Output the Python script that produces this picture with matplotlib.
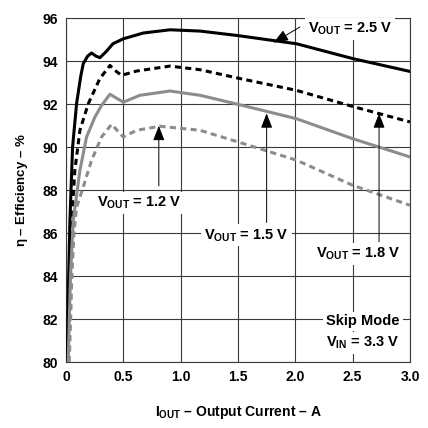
import matplotlib
matplotlib.use('Agg')
import matplotlib.pyplot as plt

plt.rcParams['font.family'] = ['Liberation Sans', 'DejaVu Sans']
plt.rcParams['font.weight'] = 'bold'
plt.rcParams['mathtext.fontset'] = 'custom'
plt.rcParams['mathtext.rm'] = 'Liberation Sans'
plt.rcParams['mathtext.it'] = 'Liberation Sans'
plt.rcParams['mathtext.bf'] = 'Liberation Sans:bold'

# efficiency curves (I_OUT in A, efficiency in %)
x_25 = [0.012, 0.02, 0.035, 0.058, 0.093, 0.128, 0.151, 0.19, 0.224, 0.26, 0.296, 0.35, 0.41, 0.5, 0.675, 0.907, 1.17, 1.5, 2.01, 2.5, 3.0]
y_25 = [80, 83, 86.6, 90.0, 92.03, 93.27, 93.89, 94.25, 94.39, 94.25, 94.17, 94.45, 94.82, 95.05, 95.32, 95.47, 95.41, 95.2, 94.82, 94.13, 93.53]

x_18 = [0.015, 0.03, 0.05, 0.078, 0.122, 0.195, 0.296, 0.384, 0.427, 0.485, 0.616, 0.907, 1.17, 1.5, 2.01, 2.5, 3.0]
y_18 = [80, 83.5, 86.6, 88.93, 90.79, 92.03, 93.2, 93.81, 93.58, 93.35, 93.55, 93.78, 93.61, 93.22, 92.65, 91.9, 91.18]

x_15 = [0.02, 0.04, 0.064, 0.122, 0.18, 0.253, 0.311, 0.384, 0.5, 0.645, 0.907, 1.17, 1.5, 2.01, 2.5, 3.0]
y_15 = [80, 84, 86.6, 88.93, 90.48, 91.41, 91.95, 92.47, 92.1, 92.42, 92.62, 92.42, 92.0, 91.33, 90.4, 89.55]

x_12 = [0.029, 0.041, 0.052, 0.07, 0.093, 0.151, 0.224, 0.311, 0.398, 0.5, 0.616, 0.82, 1.17, 1.5, 2.01, 2.5, 3.0]
y_12 = [80, 82, 84, 86, 87.2, 88.15, 89.4, 90.48, 91.07, 90.48, 90.79, 90.98, 90.79, 90.25, 89.4, 88.23, 87.3]

xticks = [0, 0.5, 1.0, 1.5, 2.0, 2.5, 3.0]
xticklabels = ['0', '0.5', '1.0', '1.5', '2.0', '2.5', '3.0']
yticks = [80, 82, 84, 86, 88, 90, 92, 94, 96]

fig = plt.figure(figsize=(4.28, 4.28), dpi=100)
ax = fig.add_axes([0.154, 0.154, 0.804, 0.803])

grey = '#8c8c8c'
ax.plot(x_25, y_25, color='black', lw=2.2, zorder=3)
ax.plot(x_18, y_18, color='black', lw=2.2, dashes=(2, 1.4), zorder=3)
ax.plot(x_15, y_15, color=grey, lw=2.2, zorder=3)
ax.plot(x_12, y_12, color=grey, lw=2.2, dashes=(2, 1.4), zorder=3)

ax.set_xlim(0, 3)
ax.set_ylim(80, 96)
ax.set_xticks(xticks)
ax.set_xticklabels(xticklabels)
ax.set_yticks(yticks)
ax.tick_params(length=0, labelsize=10, pad=6)
for lab in ax.get_xticklabels() + ax.get_yticklabels():
    lab.set_fontweight('bold')
ax.grid(True, color='#3a3a3a', lw=0.8)
for s in ax.spines.values():
    s.set_color('#3a3a3a')
    s.set_linewidth(0.8)

ax.set_xlabel(r'$\mathbf{I}_{\mathbf{OUT}}$ – Output Current – A', fontsize=10, fontweight='bold', labelpad=14)
ax.set_ylabel(r'$\eta$ – Efficiency – %', fontsize=9.5, fontweight='bold', labelpad=9)

box = dict(facecolor='white', edgecolor='none', pad=2)
fs = 10.5
ax.text(0.64, 87.4, r'$\mathbf{V}_{\mathbf{OUT}}$ = 1.2 V', ha='center', va='center', fontsize=fs, fontweight='bold', bbox=box, zorder=4)
ax.text(1.575, 85.9, r'$\mathbf{V}_{\mathbf{OUT}}$ = 1.5 V', ha='center', va='center', fontsize=fs, fontweight='bold', bbox=box, zorder=4)
ax.text(2.55, 85.05, r'$\mathbf{V}_{\mathbf{OUT}}$ = 1.8 V', ha='center', va='center', fontsize=fs, fontweight='bold', bbox=box, zorder=4)
ax.text(2.48, 95.5, r'$\mathbf{V}_{\mathbf{OUT}}$ = 2.5 V', ha='center', va='center', fontsize=fs, fontweight='bold', bbox=box, zorder=4)
ax.text(2.59, 81.9, 'Skip Mode', ha='center', va='center', fontsize=fs, fontweight='bold', bbox=box, zorder=4)
ax.text(2.59, 80.9, r'$\mathbf{V}_{\mathbf{IN}}$ = 3.3 V', ha='center', va='center', fontsize=fs, fontweight='bold', bbox=box, zorder=4)

arrow = dict(arrowstyle='-|>,head_length=0.9,head_width=0.35', color='black', lw=0.7, shrinkA=0, shrinkB=0)
ax.annotate('', xy=(0.81, 91.0), xytext=(0.81, 88.2), arrowprops=arrow, zorder=5)
ax.annotate('', xy=(1.75, 91.58), xytext=(1.75, 86.5), arrowprops=arrow, zorder=5)
ax.annotate('', xy=(2.73, 91.58), xytext=(2.73, 85.6), arrowprops=arrow, zorder=5)
ax.annotate('', xy=(1.81, 94.87), xytext=(2.04, 95.6), arrowprops=arrow, zorder=5)

fig.savefig('out.png', dpi=100)
